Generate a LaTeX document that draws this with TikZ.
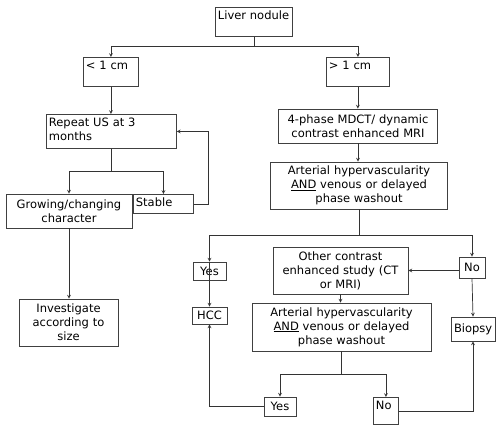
\documentclass[tikz,border=0pt]{standalone}
\usepackage{fontspec}
\setmainfont{DejaVu Sans}
\usepackage{tikz}
\usetikzlibrary{shapes, positioning}

\hyphenpenalty=10000
\exhyphenpenalty=10000

\tikzset{
  box/.style 2 args={draw=black!75, line width=0.8pt, align=center, inner sep=3pt,
    text width=#1pt-6pt, minimum height=#2pt},
  tag/.style 2 args={draw=black!75, line width=0.8pt, align=left, anchor=north west,
    inner ysep=3pt, inner xsep=2.5pt, text width=#1pt-5pt, text height=9pt, text depth=#2pt-15pt},
  link/.style={draw=black!80, line width=0.7pt, ->, >=stealth}
}

\begin{document}
\begin{tikzpicture}[x=1pt, y=-1pt, font=\fontsize{11.5}{14}\selectfont]

\useasboundingbox (0,0) rectangle (500,429);

% draw the boxes

%% top and size
\node[tag={77}{29}] (liver) at (215,7) {Liver nodule};
\node[tag={55}{29}] (small) at (83,57) {< 1 cm};
\node[tag={63}{29}] (large) at (326,57) {> 1 cm};

%% left branch
\node[tag={130}{34}] (repeat) at (46,114) {Repeat US at 3\\months};
\node[box={126}{34}] (growing) at (69,211) {Growing/changing\\character};
\node[tag={60}{19}] (stable) at (133,194) {Stable};
\node[box={99}{47}] (invest) at (68.5,322.5) {Investigate\\according to\\size};

%% right branch
\node[box={159}{34}] (mdct) at (358,126) {4-phase MDCT/ dynamic\\contrast enhanced MRI};
\node[box={177}{47}] (art1) at (359,185.5) {Arterial hypervascularity\\\underline{AND} venous or delayed\\phase washout};
\node[box={33}{18}] (yesA) at (209.5,271) {Yes};
\node[box={35}{17}] (hcc) at (209.5,315.5) {HCC};
\node[box={135}{47}] (other) at (340.5,270.5) {Other contrast\\enhanced study (CT\\or MRI)};
\node[box={26}{21}] (noA) at (472,267.5) {No};
\node[box={179}{48}] (art2) at (341.5,327) {Arterial hypervascularity\\\underline{AND} venous or delayed\\phase washout};
\node[box={44}{24}] (biopsy) at (473,329) {Biopsy};
\node[box={32}{19}] (yesB) at (280,406.5) {Yes};
\node[tag={25}{27}] (noB) at (373,397) {No};

% draw the arrows

%% size split
\draw[link] (liver.south) -- ++(0,10) -| (small.north);
\draw[link] (liver.south) -- ++(0,10) -| (large.north);

%% left branch
\draw[link] (small.south) -- (small.south |- repeat.north);
\draw[link] (repeat.south) -- ++(0,23) -| (growing.north);
\draw[link] (repeat.south) -- ++(0,23) -| (stable.north);
\draw[link] (stable.east) -- ++(15,0) |- (repeat.east);
\draw[link] (growing.south) -- (growing.south |- invest.north);

%% right branch
\draw[link] (large.south) -- (large.south |- mdct.north);
\draw[link] (mdct.south) -- (mdct.south |- art1.north);
\draw[link] (art1.south) -- ++(0,26) -| (yesA.north);
\draw[link] (art1.south) -- ++(0,26) -| (noA.north);
\draw[link] (yesA.north) -- (hcc.north);
\draw[link] (noA.west |- other.east) -- (other.east);
\draw[link] (noA.south) -- (biopsy.north);
\draw[link] (other.south) -- (other.south |- art2.north);
\draw[link] (art2.south) -- ++(0,23) -| (yesB.north);
\draw[link] (art2.south) -- ++(0,23) -| (noB.north);
\draw[link] (yesB.west) -| (hcc.south);
\draw[link] (noB.east) -| (biopsy.south);

\end{tikzpicture}
\end{document}
